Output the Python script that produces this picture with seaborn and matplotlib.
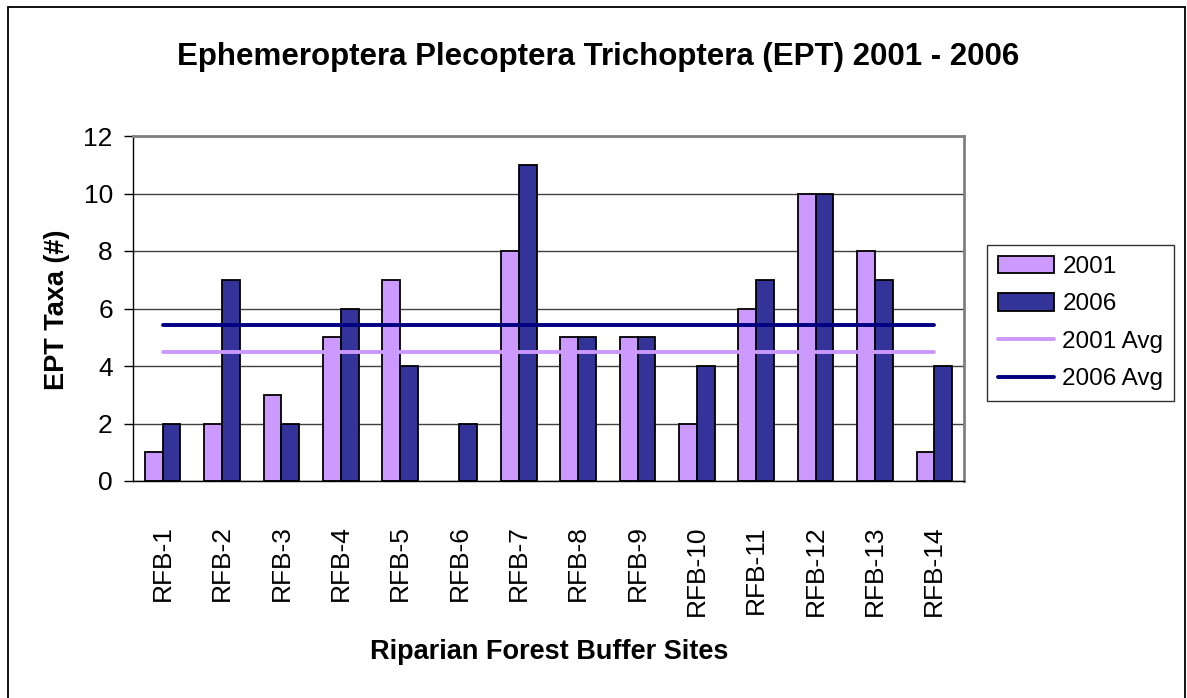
import matplotlib
matplotlib.use("Agg")
import matplotlib.pyplot as plt
import seaborn as sns
import pandas as pd
from matplotlib.patches import Rectangle

# data
sites = ["RFB-1", "RFB-2", "RFB-3", "RFB-4", "RFB-5", "RFB-6", "RFB-7",
         "RFB-8", "RFB-9", "RFB-10", "RFB-11", "RFB-12", "RFB-13", "RFB-14"]
ept_2001 = [1, 2, 3, 5, 7, 0, 8, 5, 5, 2, 6, 10, 8, 1]
ept_2006 = [2, 7, 2, 6, 4, 2, 11, 5, 5, 4, 7, 10, 7, 4]
years = ["2001", "2006"]
avg_2001 = sum(ept_2001) / len(ept_2001)
avg_2006 = sum(ept_2006) / len(ept_2006)

c2001 = "#CC99FF"
c2006 = "#333399"
c2001avg = "#CC99FF"
c2006avg = "#000080"

sns.set_style("white")
plt.rcParams["font.family"] = ["Liberation Sans", "DejaVu Sans"]
plt.rcParams["text.color"] = "black"
plt.rcParams["xtick.labelcolor"] = "black"
plt.rcParams["ytick.labelcolor"] = "black"

df = pd.DataFrame({
    "site": sites * 2,
    "year": [years[0]] * len(sites) + [years[1]] * len(sites),
    "ept": ept_2001 + ept_2006,
})
df_avg = pd.DataFrame({
    "site": sites,
    "2001 Avg": [avg_2001] * len(sites),
    "2006 Avg": [avg_2006] * len(sites),
})

W, H = 1187, 698
fig = plt.figure(figsize=(W / 100, H / 100), dpi=100)
fig.patch.set_facecolor("white")
fig.patches.append(Rectangle((8 / W, -0.01), (1185 - 8) / W, 1 - 7 / H + 0.01,
                             transform=fig.transFigure, fill=False,
                             edgecolor="black", lw=1.3))

ax = fig.add_axes([133 / W, (H - 481) / H, (964 - 133) / W, (481 - 136) / H])

sns.barplot(data=df, x="site", y="ept", hue="year", order=sites,
            palette={"2001": c2001, "2006": c2006}, width=0.6, gap=0,
            edgecolor="black", linewidth=1.3, saturation=1, ax=ax)
# zero-height bars show nothing in the original
for cont in ax.containers:
    for p in cont.patches:
        if p.get_height() == 0:
            p.set_linewidth(0)
sns.lineplot(data=df_avg, x="site", y="2001 Avg", color=c2001avg, lw=2.8,
             ax=ax, label="2001 Avg")
sns.lineplot(data=df_avg, x="site", y="2006 Avg", color=c2006avg, lw=2.8,
             ax=ax, label="2006 Avg")

ax.set_ylim(0, 12)
ax.set_xlim(-0.5, len(sites) - 0.5)
ax.set_yticks(range(0, 13, 2))
ax.yaxis.grid(True, color="#404040", lw=1.0)
ax.set_axisbelow(True)

# category boundary ticks on x
ax.set_xticks([i + 0.5 for i in range(-1, len(sites))], minor=True)
ax.set_xticks(range(len(sites)))
ax.set_xticklabels(sites, rotation=90, fontsize=19)
ax.tick_params(axis="x", which="major", length=0, pad=32, labelcolor="black")
ax.tick_params(axis="x", which="minor", length=6.5, width=1, color="black", direction="out")
ax.tick_params(axis="y", length=6.5, width=1, color="black", direction="out",
               labelsize=19, pad=8, left=True, labelcolor="black")

for s in ["top", "right"]:
    ax.spines[s].set_color("#808080")
    ax.spines[s].set_linewidth(2)
ax.spines["left"].set_color("black")
ax.spines["bottom"].set_color("black")
ax.spines["left"].set_linewidth(1)
ax.spines["bottom"].set_linewidth(1)

ax.set_xlabel("")
ax.set_ylabel("")
fig.text(598 / W, 1 - 57 / H, "Ephemeroptera Plecoptera Trichoptera (EPT) 2001 - 2006",
         ha="center", va="center", fontsize=22.5, fontweight="bold", color="black")
fig.text(57 / W, 1 - 310 / H, "EPT Taxa (#)", rotation=90, ha="center", va="center",
         fontsize=19.5, fontweight="bold", color="black")
fig.text(549 / W, 1 - 652 / H, "Riparian Forest Buffer Sites", ha="center", va="center",
         fontsize=19.5, fontweight="bold", color="black")

handles, labels = ax.get_legend_handles_labels()
ax.get_legend().remove()
leg = fig.legend(handles, labels, loc="center left",
                 bbox_to_anchor=(987 / W, 1 - 323 / H), fontsize=17.5,
                 frameon=True, fancybox=False, edgecolor="black",
                 handlelength=2.3, handleheight=0.75, labelspacing=0.62,
                 borderpad=0.45, handletextpad=0.35, borderaxespad=0,
                 labelcolor="black")
leg.get_frame().set_linewidth(1)

fig.savefig("out.png", dpi=100, facecolor="white")
